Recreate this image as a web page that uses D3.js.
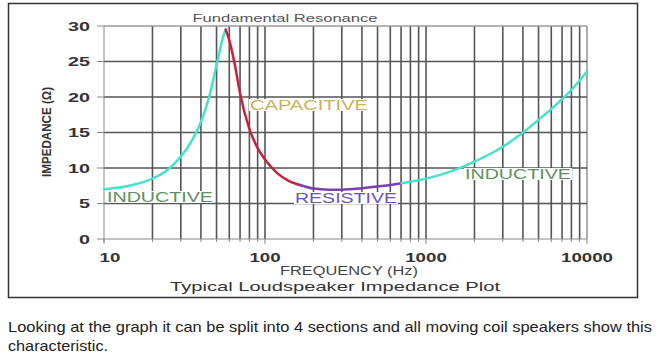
<!DOCTYPE html>
<html>
<head>
<meta charset="utf-8">
<script src="https://cdn.jsdelivr.net/npm/d3@7"></script>
<style>
  body { margin: 0; background: #fff; }
  svg { display: block; font-family: 'Liberation Sans', Arial, sans-serif; }
</style>
</head>
<body>
<svg id="chart" width="660" height="364"></svg>
<script>
// impedance curve (Hz, ohms)
const inductiveLowHz = [10, 15, 20, 25, 30, 35, 40, 45, 50, 55, 57];
const inductiveLowOhm = [7.0, 7.6, 8.5, 9.8, 11.6, 13.8, 16.5, 20, 24.5, 28.5, 29.5];
const capacitiveHz = [57, 60, 65, 70, 80, 90, 100, 120, 140, 165];
const capacitiveOhm = [29.5, 28, 24.5, 20.5, 15.5, 12.8, 11.2, 9.2, 8.2, 7.6];
const resistiveHz = [165, 200, 250, 300, 400, 500, 600, 705];
const resistiveOhm = [7.6, 7.1, 6.95, 6.95, 7.15, 7.4, 7.6, 7.85];
const inductiveHighHz = [705, 1000, 1500, 2000, 3000, 4000, 5000, 6000, 8000, 10000];
const inductiveHighOhm = [7.85, 8.5, 9.7, 10.9, 13, 15, 16.8, 18.3, 21, 23.6];

const yTicks = [0, 5, 10, 15, 20, 25, 30];
const xTicks = [10, 100, 1000, 10000];

const svg = d3.select('#chart');

const x = d3.scaleLog().domain([10, 10000]).range([104, 587]);
const y = d3.scaleLinear().domain([0, 30]).range([239, 26]);

// frame
svg.append('rect')
  .attr('x', 8.5).attr('y', 3.5)
  .attr('width', 629).attr('height', 294)
  .attr('fill', 'none')
  .attr('stroke', '#333')
  .attr('stroke-width', 1.5);

// vertical grid: every minor log tick
const minor = [];
for (let d = 10; d < 10000; d *= 10) {
  for (let k = 1; k < 10; k++) minor.push(d * k);
}
minor.push(10000);

svg.append('g')
  .selectAll('line')
  .data(minor.filter(f => f > 10))
  .join('line')
  .attr('x1', d => x(d)).attr('x2', d => x(d))
  .attr('y1', y(30)).attr('y2', y(0))
  .attr('stroke', d => d === 10000 ? '#999' : '#555')
  .attr('stroke-width', 1.6);

// horizontal grid
svg.append('g')
  .selectAll('line')
  .data(yTicks.filter(v => v > 0))
  .join('line')
  .attr('x1', x(10)).attr('x2', x(10000))
  .attr('y1', d => y(d)).attr('y2', d => y(d))
  .attr('stroke', d => d === 30 ? '#999' : '#555')
  .attr('stroke-width', 1.6);

// axes lines
svg.append('line')
  .attr('x1', x(10)).attr('x2', x(10))
  .attr('y1', y(30)).attr('y2', y(0) + 3)
  .attr('stroke', '#888').attr('stroke-width', 1);
svg.append('line')
  .attr('x1', x(10)).attr('x2', x(10000))
  .attr('y1', y(0)).attr('y2', y(0))
  .attr('stroke', '#888').attr('stroke-width', 1);

// y ticks
svg.append('g')
  .selectAll('line')
  .data(yTicks)
  .join('line')
  .attr('x1', x(10) - 7).attr('x2', x(10))
  .attr('y1', d => y(d)).attr('y2', d => y(d))
  .attr('stroke', '#888');

svg.append('g')
  .selectAll('text')
  .data(yTicks)
  .join('text')
  .attr('x', 90)
  .attr('y', d => y(d) + 4.5)
  .attr('text-anchor', 'end')
  .attr('font-size', 12)
  .attr('font-weight', 'bold')
  .attr('fill', '#333')
  .attr('textLength', d => String(d).length * 11)
  .attr('lengthAdjust', 'spacingAndGlyphs')
  .text(d => d);

// x ticks
svg.append('g')
  .selectAll('line')
  .data(minor)
  .join('line')
  .attr('x1', d => x(d)).attr('x2', d => x(d))
  .attr('y1', y(0)).attr('y2', d => xTicks.includes(d) ? y(0) + 5 : y(0) + 3)
  .attr('stroke', '#888');

svg.append('g')
  .selectAll('text')
  .data(xTicks)
  .join('text')
  .attr('x', (d, i) => x(d) + (i === 0 ? 6 : 0))
  .attr('y', 262)
  .attr('text-anchor', 'middle')
  .attr('font-size', 13)
  .attr('font-weight', 'bold')
  .attr('fill', '#333')
  .attr('textLength', d => String(d).length * 10.4)
  .attr('lengthAdjust', 'spacingAndGlyphs')
  .text(d => d);

// titles
svg.append('text')
  .attr('x', 349).attr('y', 275)
  .attr('text-anchor', 'middle')
  .attr('font-size', 12)
  .attr('fill', '#444')
  .attr('textLength', 138).attr('lengthAdjust', 'spacingAndGlyphs')
  .text('FREQUENCY (Hz)');

svg.append('text')
  .attr('x', 335).attr('y', 291)
  .attr('text-anchor', 'middle')
  .attr('font-size', 13)
  .attr('fill', '#333')
  .attr('textLength', 330).attr('lengthAdjust', 'spacingAndGlyphs')
  .text('Typical Loudspeaker Impedance Plot');

svg.append('text')
  .attr('transform', 'translate(51,132) rotate(-90)')
  .attr('text-anchor', 'middle')
  .attr('font-size', 13).attr('font-weight', 'bold')
  .attr('fill', '#333')
  .attr('textLength', 90).attr('lengthAdjust', 'spacingAndGlyphs')
  .text('IMPEDANCE (Ω)');

svg.append('text')
  .attr('x', 285).attr('y', 22)
  .attr('text-anchor', 'middle')
  .attr('font-size', 11)
  .attr('fill', '#555')
  .attr('textLength', 185).attr('lengthAdjust', 'spacingAndGlyphs')
  .text('Fundamental Resonance');

// curve segments
const line = d3.line()
  .x(d => x(d[0]))
  .y(d => y(d[1]))
  .curve(d3.curveMonotoneX);

const segments = [
  { hz: inductiveLowHz, ohm: inductiveLowOhm, color: '#45e2cc' },
  { hz: capacitiveHz, ohm: capacitiveOhm, color: '#c8203f' },
  { hz: resistiveHz, ohm: resistiveOhm, color: '#7a3fb5' },
  { hz: inductiveHighHz, ohm: inductiveHighOhm, color: '#45e2cc' },
];

svg.append('g')
  .selectAll('path')
  .data(segments)
  .join('path')
  .attr('d', s => line(s.hz.map((h, i) => [h, s.ohm[i]])))
  .attr('fill', 'none')
  .attr('stroke', s => s.color)
  .attr('stroke-width', 2.5)
  .attr('stroke-linecap', 'round');

// region labels
const regionLabels = [
  { text: 'INDUCTIVE', x: 107, y: 197, w: 106, color: '#5f8f5f' },
  { text: 'CAPACITIVE', x: 250, y: 105, w: 118, color: '#c9b35c' },
  { text: 'RESISTIVE', x: 295, y: 198, w: 102, color: '#6856b3' },
  { text: 'INDUCTIVE', x: 465, y: 174, w: 106, color: '#5f8f5f' },
];

const lab = svg.append('g')
  .selectAll('g')
  .data(regionLabels)
  .join('g');

lab.append('rect')
  .attr('x', d => d.x - 1).attr('y', d => d.y - 6)
  .attr('width', d => d.w + 2).attr('height', 12)
  .attr('fill', '#fff');

lab.append('text')
  .attr('x', d => d.x).attr('y', d => d.y + 5)
  .attr('font-size', 14)
  .attr('fill', d => d.color)
  .attr('textLength', d => d.w).attr('lengthAdjust', 'spacingAndGlyphs')
  .text(d => d.text);

// caption below the figure
svg.append('text')
  .attr('x', 8).attr('y', 332)
  .attr('font-size', 15)
  .attr('fill', '#222')
  .attr('textLength', 644).attr('lengthAdjust', 'spacingAndGlyphs')
  .text('Looking at the graph it can be split into 4 sections and all moving coil speakers show this');

svg.append('text')
  .attr('x', 8).attr('y', 351)
  .attr('font-size', 15)
  .attr('fill', '#222')
  .attr('textLength', 100).attr('lengthAdjust', 'spacingAndGlyphs')
  .text('characteristic.');
</script>
</body>
</html>
